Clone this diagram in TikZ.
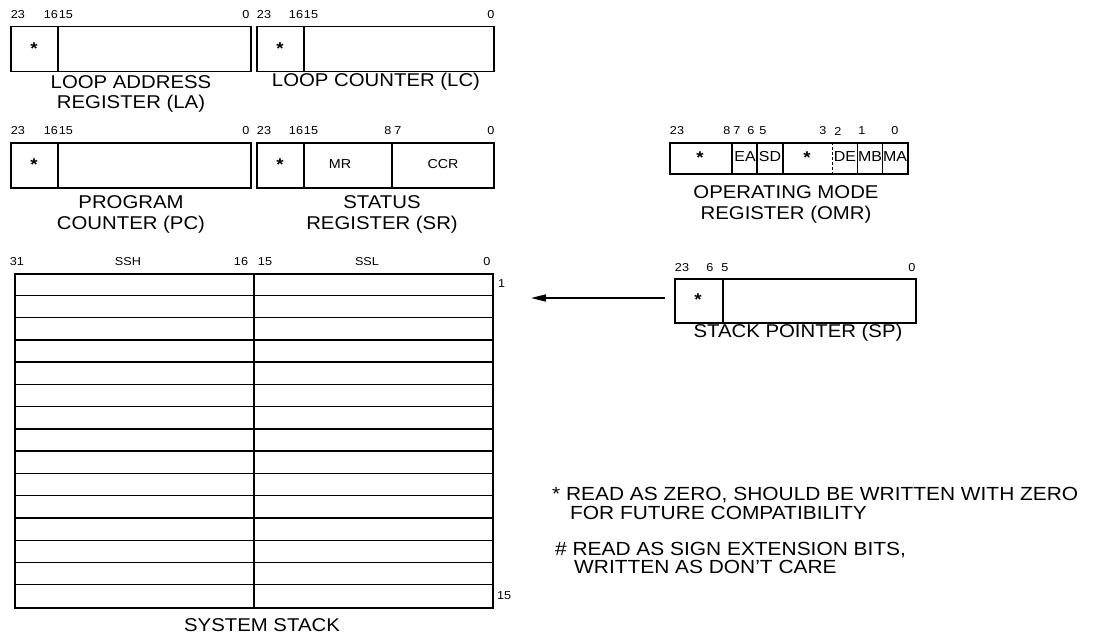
\documentclass[tikz,border=0pt]{standalone}
\usepackage{fontspec}
\setmainfont{Liberation Sans}[FakeStretch=1.1]
\usetikzlibrary{arrows.meta}

\newcommand{\regstar}{\raisebox{-0.4ex}{\textbf{*}}}

\tikzset{
  regbox/.style={draw, line width=1.5pt, inner sep=0pt, anchor=north west},
  divline/.style={line width=1.5pt},
  rowline/.style={line width=1.4pt},
  bitnum/.style={font=\fontsize{11.5}{11.5}\selectfont, inner sep=0pt},
  field/.style={font=\fontsize{13}{13}\selectfont, inner sep=0pt},
  omrfield/.style={font=\fontsize{14.5}{14.5}\selectfont, inner sep=0pt},
  starmark/.style={font=\fontsize{17}{17}\selectfont, inner sep=0pt},
  regname/.style={font=\fontsize{18.5}{22}\selectfont, inner sep=0pt},
  note/.style={font=\fontsize{19}{20}\selectfont, inner sep=0pt, anchor=west},
}

\begin{document}
\begin{tikzpicture}[x=1pt,y=-1pt]
\useasboundingbox (0,0) rectangle (1100,634);

% Loop address register
\node[regbox, minimum width=240pt, minimum height=45pt] (la) at (10,26) {};
\draw[divline] (58,26) -- (58,71);
\node[starmark] (lastar) at (34,49) {\regstar};
\node[bitnum] (la23) at (18,15) {23};
\node[bitnum] (la16) at (51,15) {16};
\node[bitnum] (la15) at (66,15) {15};
\node[bitnum] (la0) at (246,15) {0};
\node[regname] (laname1) at (131,82) {LOOP ADDRESS};
\node[regname] (laname2) at (131,104) {REGISTER (LA)};

% Loop counter
\node[regbox, minimum width=237pt, minimum height=45pt] (lc) at (256,26) {};
\draw[divline] (304,26) -- (304,71);
\node[starmark] (lcstar) at (280,49) {\regstar};
\node[bitnum] (lc23) at (264,15) {23};
\node[bitnum] (lc16) at (296,15) {16};
\node[bitnum] (lc15) at (311,15) {15};
\node[bitnum] (lc0) at (491,15) {0};
\node[regname] (lcname) at (376,82) {LOOP COUNTER (LC)};

% Program counter
\node[regbox, minimum width=240pt, minimum height=45pt] (pc) at (10,142) {};
\draw[divline] (58,142) -- (58,187);
\node[starmark] (pcstar) at (34,165) {\regstar};
\node[bitnum] (pc23) at (18,131) {23};
\node[bitnum] (pc16) at (51,131) {16};
\node[bitnum] (pc15) at (66,131) {15};
\node[bitnum] (pc0) at (246,131) {0};
\node[regname] (pcname1) at (131,202) {PROGRAM};
\node[regname] (pcname2) at (131,225) {COUNTER (PC)};

% Status register
\node[regbox, minimum width=237pt, minimum height=45pt] (sr) at (256,142) {};
\draw[divline] (304,142) -- (304,187);
\draw[divline] (392,142) -- (392,187);
\node[starmark] (srstar) at (280,165) {\regstar};
\node[field] (mr) at (340,164) {MR};
\node[field] (ccr) at (443,164) {CCR};
\node[bitnum] (sr23) at (264,131) {23};
\node[bitnum] (sr16) at (296,131) {16};
\node[bitnum] (sr15) at (311,131) {15};
\node[bitnum] (sr8) at (388,131) {8};
\node[bitnum] (sr7) at (398,131) {7};
\node[bitnum] (sr0) at (491,131) {0};
\node[regname] (srname1) at (382,202) {STATUS};
\node[regname] (srname2) at (382,225) {REGISTER (SR)};

% Operating mode register
\node[regbox, minimum width=238pt, minimum height=31pt] (omr) at (669,142) {};
\foreach \xd in {732,757,783} {
  \draw[divline] (\xd,142) -- (\xd,173);
}
\foreach \xd in {857,882} {
  \draw[line width=0.8pt] (\xd,142) -- (\xd,173);
}
\draw[line width=0.8pt, densely dashed] (832,142) -- (832,173);
\node[starmark] (omrstar1) at (700,158) {\regstar};
\node[omrfield] (ea) at (745,157) {EA};
\node[omrfield] (sd) at (770,157) {SD};
\node[starmark] (omrstar2) at (807,158) {\regstar};
\node[omrfield] (de) at (845,157) {DE};
\node[omrfield] (mb) at (870,157) {MB};
\node[omrfield] (ma) at (895,157) {MA};
\foreach \bx/\bt in {677/23,727/8,737/7,751/6,763/5,823/3,838/2,862/1,895/0} {
  \node[bitnum] (omr\bt) at (\bx,131) {\bt};
}
\node[regname] (omrname1) at (786,192) {OPERATING MODE};
\node[regname] (omrname2) at (786,215) {REGISTER (OMR)};

% System stack
\node[regbox, minimum width=478pt, minimum height=334pt] (stack) at (14,273) {};
\draw[divline] (254,273) -- (254,607);
\foreach \r in {1,...,14} {
  \draw[rowline] (14,{273+\r*22.27}) -- (492,{273+\r*22.27});
}
\node[bitnum] (st31) at (17,262) {31};
\node[bitnum] (ssh) at (128,262) {SSH};
\node[bitnum] (st16) at (241,262) {16};
\node[bitnum] (st15) at (265,262) {15};
\node[bitnum] (ssl) at (367,262) {SSL};
\node[bitnum] (st0) at (487,262) {0};
\node[bitnum, anchor=west] (row1) at (498,284) {1};
\node[bitnum, anchor=west] (row15) at (497,596) {15};
\node[regname] (stackname) at (262,625) {SYSTEM STACK};

% Stack pointer
\node[regbox, minimum width=241pt, minimum height=44pt] (sp) at (674,278) {};
\draw[divline] (723,278) -- (723,322);
\node[starmark] (spstar) at (698,300) {\regstar};
\node[bitnum] (sp23) at (682,268) {23};
\node[bitnum] (sp6) at (710,268) {6};
\node[bitnum] (sp5) at (725,268) {5};
\node[bitnum] (sp0) at (912,268) {0};
\node[regname] (spname) at (798,333) {STACK POINTER (SP)};

% Pointer arrow
\coordinate (sptail) at (665,298);
\coordinate (sphead) at (531,298);
\draw[line width=1.6pt, -{Triangle[length=15pt,width=7pt]}] (sptail) -- (sphead);

% Notes
\node[note] (note1) at (552,495) {* READ AS ZERO, SHOULD BE WRITTEN WITH ZERO};
\node[note] (note2) at (570,513) {FOR FUTURE COMPATIBILITY};
\node[note] (note3) at (555,550) {\# READ AS SIGN EXTENSION BITS,};
\node[note] (note4) at (574,567) {WRITTEN AS DON'T CARE};

\end{tikzpicture}
\end{document}
